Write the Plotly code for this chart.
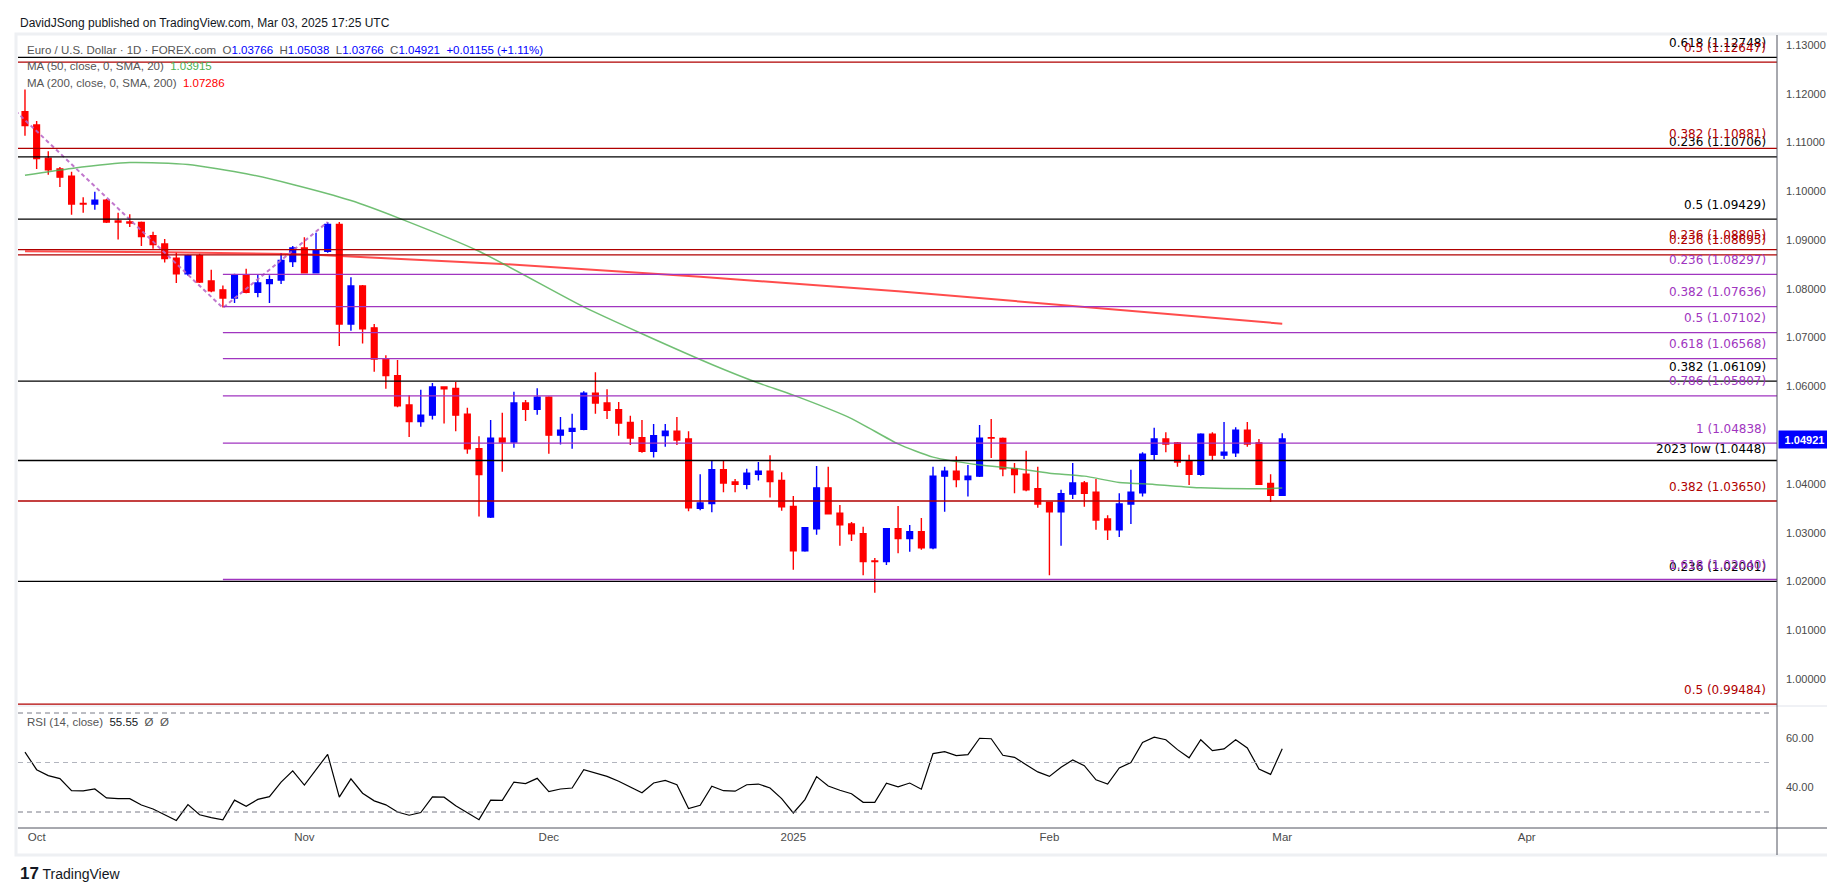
import numpy as np
import pandas as pd
import plotly.graph_objects as go

# ---------------- data ----------------
holidays = ["2024-12-25", "2025-01-01"]
dates = [d.strftime("%Y-%m-%d") for d in pd.bdate_range("2024-09-30", "2025-03-03")
         if d.strftime("%Y-%m-%d") not in holidays]

opens = [1.1163,1.1136,1.1068,1.1046,1.1031,1.0975,1.0974,1.0982,1.0939,1.0937,
         1.0936,1.0909,1.0892,1.0863,1.0831,1.0868,1.0816,1.0798,1.0781,1.0829,
         1.0793,1.0811,1.0818,1.0856,1.0884,1.0833,1.0877,1.0932,1.0728,1.0806,
         1.0720,1.0656,1.0622,1.0562,1.0528,1.0541,1.0599,1.0596,1.0543,1.0472,
         1.0332,1.0494,1.0486,1.0566,1.0553,1.0578,1.0500,1.0508,1.0512,1.0586,
         1.0566,1.0552,1.0526,1.0495,1.0467,1.0499,1.0508,1.0492,1.0350,1.0360,
         1.0429,1.0404,1.0399,1.0420,1.0426,1.0407,1.0354,1.0263,1.0308,1.0392,
         1.0340,1.0318,1.0298,1.0242,1.0241,1.0308,1.0288,1.0302,1.0269,1.0416,
         1.0426,1.0409,1.0416,1.0495,1.0493,1.0431,1.0420,1.0390,1.0362,1.0343,
         1.0379,1.0402,1.0383,1.0328,1.0306,1.0359,1.0382,1.0461,1.0492,1.0484,
         1.0446,1.0420,1.0502,1.0459,1.0464,1.0510,1.0484,1.0401,1.03766]
highs = [1.1209,1.1144,1.1082,1.1050,1.1040,1.0988,1.0999,1.0984,1.0956,1.0953,
         1.0938,1.0917,1.0902,1.0874,1.0870,1.0872,1.0839,1.0807,1.0831,1.0841,
         1.0829,1.0828,1.0873,1.0888,1.0906,1.0915,1.0937,1.0937,1.0824,1.0808,
         1.0728,1.0664,1.0654,1.0582,1.0593,1.0607,1.0600,1.0609,1.0556,1.0498,
         1.0531,1.0546,1.0589,1.0572,1.0596,1.0580,1.0537,1.0544,1.0590,1.0629,
         1.0594,1.0568,1.0540,1.0531,1.0523,1.0523,1.0537,1.0508,1.0420,1.0448,
         1.0448,1.0410,1.0431,1.0445,1.0459,1.0424,1.0375,1.0310,1.0437,1.0435,
         1.0357,1.0322,1.0312,1.0248,1.0308,1.0355,1.0316,1.0330,1.0435,1.0435,
         1.0457,1.0439,1.0521,1.0533,1.0495,1.0443,1.0468,1.0435,1.0362,1.0388,
         1.0443,1.0406,1.0410,1.0336,1.0381,1.0429,1.0465,1.0515,1.0506,1.0486,
         1.0460,1.0504,1.0506,1.0527,1.0516,1.0527,1.0492,1.0420,1.05038]
lows = [1.1114,1.1046,1.1034,1.1009,1.0952,1.0956,1.0962,1.0935,1.0901,1.0927,
        1.0888,1.0882,1.0854,1.0812,1.0827,1.0812,1.0793,1.0762,1.0771,1.0791,
        1.0783,1.0771,1.0810,1.0845,1.0833,1.0832,1.0874,1.0683,1.0714,1.0688,
        1.0630,1.0595,1.0557,1.0496,1.0517,1.0532,1.0524,1.0508,1.0462,1.0333,
        1.0330,1.0425,1.0474,1.0529,1.0542,1.0462,1.0481,1.0472,1.0510,1.0544,
        1.0533,1.0499,1.0480,1.0464,1.0454,1.0476,1.0480,1.0344,1.0346,1.0342,
        1.0383,1.0383,1.0389,1.0407,1.0372,1.0345,1.0224,1.0261,1.0296,1.0339,
        1.0273,1.0283,1.0213,1.0177,1.0234,1.0258,1.0261,1.0265,1.0266,1.0343,
        1.0393,1.0374,1.0414,1.0453,1.0416,1.0381,1.0385,1.0351,1.0213,1.0273,
        1.0369,1.0353,1.0306,1.0285,1.0291,1.0318,1.0374,1.0449,1.0465,1.0435,
        1.0398,1.0417,1.0449,1.0451,1.0455,1.0476,1.0399,1.0363,1.03766]
closes = [1.1135,1.1067,1.1044,1.1029,1.0974,1.0974,1.0982,1.0937,1.0937,1.0935,
          1.0907,1.0891,1.0862,1.0831,1.0868,1.0814,1.0796,1.0781,1.0829,1.0793,
          1.0812,1.0819,1.0858,1.0884,1.0833,1.0878,1.0932,1.0728,1.0806,1.0718,
          1.0656,1.0622,1.0560,1.0528,1.0541,1.0599,1.0595,1.0541,1.0472,1.0419,
          1.0494,1.0486,1.0566,1.0553,1.0578,1.0500,1.0510,1.0514,1.0586,1.0566,
          1.0551,1.0525,1.0494,1.0467,1.0499,1.0508,1.0490,1.0351,1.0361,1.0429,
          1.0402,1.0399,1.0422,1.0426,1.0405,1.0353,1.0263,1.0310,1.0392,1.0339,
          1.0316,1.0298,1.0241,1.0241,1.0308,1.0288,1.0302,1.0269,1.0416,1.0426,
          1.0409,1.0416,1.0494,1.0494,1.0431,1.0419,1.0388,1.0359,1.0343,1.0380,
          1.0402,1.0381,1.0326,1.0306,1.0359,1.0383,1.0461,1.0492,1.0482,1.0445,
          1.0420,1.0502,1.0459,1.0465,1.0510,1.0482,1.0399,1.03766,1.04921]
rsi = [54.2,47.1,44.7,43.5,38.6,38.5,39.3,35.7,35.4,35.4,
       32.8,31.2,28.9,26.6,33.0,28.9,27.7,26.8,34.8,32.3,
       35.1,36.2,42.1,46.6,40.9,47.1,53.3,36.0,43.4,37.6,
       34.5,32.9,30.0,28.7,29.8,36.1,36.0,32.5,29.6,26.9,
       34.8,34.7,42.1,41.5,43.6,38.2,39.3,39.7,47.1,45.6,
       44.4,42.4,40.2,37.8,41.7,42.8,41.0,31.4,32.7,40.4,
       38.6,38.4,41.0,41.3,39.7,35.4,29.6,35.0,44.3,40.5,
       38.8,37.4,33.9,33.9,41.6,40.2,41.7,39.2,53.6,54.4,
       52.8,53.2,59.8,59.6,52.9,52.1,49.1,46.2,44.4,48.1,
       51.0,48.7,43.0,41.3,47.8,50.0,58.1,60.2,59.2,55.2,
       51.9,59.2,54.8,55.5,59.2,55.9,47.4,45.2,55.55]

ma50_dates = ["2024-09-30","2024-10-04","2024-10-11","2024-10-18","2024-10-25","2024-10-31",
              "2024-11-07","2024-11-13","2024-11-22","2024-12-05","2024-12-12","2024-12-20",
              "2024-12-27","2025-01-02","2025-01-09","2025-01-15","2025-01-20","2025-01-24",
              "2025-01-29","2025-02-03","2025-02-06","2025-02-11","2025-02-14","2025-02-20",
              "2025-02-27","2025-03-03"]
ma50_vals = [1.1033,1.1047,1.1059,1.1055,1.1036,1.1014,1.0981,1.0946,1.0877,1.0763,1.0708,1.0645,
             1.0607,1.0582,1.0534,1.0482,1.0455,1.0439,1.0432,1.0422,1.0416,1.0403,1.0399,1.0392,
             1.0390,1.03915]
ma200_dates = ["2024-09-30","2024-10-16","2024-11-01","2024-11-26","2024-12-19","2025-01-15",
               "2025-02-05","2025-03-03"]
ma200_vals = [1.0877,1.0875,1.0871,1.0851,1.0825,1.0795,1.0765,1.07286]

swing_dates = ["2024-09-25", "2024-10-23", "2024-11-05"]
swing_vals = [1.1214, 1.0761, 1.0937]

black_levels = [1.12748, 1.10706, 1.09429, 1.06109, 1.02001]
black_ratios = ["0.618", "0.236", "0.5", "0.382", "0.236"]
red_levels = [1.12647, 1.10881, 1.08805, 1.08695, 1.03650, 0.99484]
red_ratios = ["0.5", "0.382", "0.236", "0.236", "0.382", "0.5"]
purple_levels = [1.08297, 1.07636, 1.07102, 1.06568, 1.05807, 1.04838, 1.02040]
purple_ratios = ["0.236", "0.382", "0.5", "0.618", "0.786", "1", "1.618"]
purple_start = "2024-10-23"
low_2023 = 1.0448

month_tick_dates = ["2024-10-01", "2024-11-01", "2024-12-02", "2025-01-02", "2025-02-03",
                    "2025-03-03", "2025-04-01"]
month_tick_labels = ["Oct", "Nov", "Dec", "2025", "Feb", "Mar", "Apr"]
price_ticks = [1.00, 1.01, 1.02, 1.03, 1.04, 1.06, 1.07, 1.08, 1.09, 1.10, 1.11, 1.12, 1.13]
rsi_ticks = [40, 60]

# ---------------- helpers ----------------
def pos(d):
    return int(np.busday_count(dates[0], d, holidays=holidays))

idx = [pos(d) for d in dates]

W, H = 1835, 883
L, R_AX, T, B = 10, 1769, 27, 820       # plot area in pixels
SEP = 698                                # main / RSI boundary
XMIN, XMAX = -0.6, 150.5
PX_PER_PRICE = 4877.0                    # vertical scale of main pane
def px(x):
    return (x - L) / (R_AX - L)
def py(y):
    return (B - y) / (B - T)

main_dom = [py(SEP), 1]
rsi_dom = [0, py(SEP)]
y_top = 1.13 + (37 - T) / PX_PER_PRICE
y_bot = 1.13 - (SEP - 37) / PX_PER_PRICE

BLUE = "#0000ff"
RED = "#ff0000"
FIBRED = "#b00000"
PURPLE = "#a035c0"
GRAY = "#50535e"
LAB = "Liberation Sans, Arial, sans-serif"
FIBFONT = "DejaVu Sans, Verdana, sans-serif"

fig = go.Figure()

# candles
fig.add_trace(go.Candlestick(
    x=idx, open=opens, high=highs, low=lows, close=closes,
    increasing=dict(line=dict(color=BLUE, width=1.4), fillcolor=BLUE),
    decreasing=dict(line=dict(color=RED, width=1.4), fillcolor=RED),
    whiskerwidth=0, xaxis="x", yaxis="y", hoverinfo="skip", showlegend=False))

# moving averages
fig.add_trace(go.Scatter(x=[pos(d) for d in ma200_dates], y=ma200_vals, mode="lines",
                         line=dict(color="rgba(255,0,0,0.7)", width=2), xaxis="x", yaxis="y",
                         hoverinfo="skip", showlegend=False))
fig.add_trace(go.Scatter(x=[pos(d) for d in ma50_dates], y=ma50_vals, mode="lines",
                         line=dict(color="rgba(76,175,80,0.8)", width=1.5, shape="spline", smoothing=0.6),
                         xaxis="x", yaxis="y", hoverinfo="skip", showlegend=False))

# fib swing (dashed)
fig.add_trace(go.Scatter(x=[pos(d) for d in swing_dates], y=swing_vals, mode="lines",
                         line=dict(color="rgba(186,104,200,0.9)", width=2, dash="4px,3px"),
                         xaxis="x", yaxis="y", hoverinfo="skip", showlegend=False))

annotations = []
XLAB = px(1760)

def add_level(level, color, text, start, shift=14.5):
    fig.add_trace(go.Scatter(x=[start, XMAX], y=[level, level], mode="lines",
                             line=dict(color=color, width=1.3), xaxis="x", yaxis="y",
                             hoverinfo="skip", showlegend=False))
    annotations.append(dict(xref="paper", yref="y", x=XLAB, y=level, xanchor="right",
                            yanchor="middle", yshift=shift, text=text, showarrow=False,
                            font=dict(family=FIBFONT, size=12, color=color)))

for lv, r in zip(black_levels, black_ratios):
    add_level(lv, "#000000", f"{r} ({lv:.5f})", XMIN)
add_level(low_2023, "#000000", f"2023 low ({low_2023:.4f})", XMIN, shift=12)
for lv, r in zip(red_levels, red_ratios):
    add_level(lv, FIBRED, f"{r} ({lv:.5f})", XMIN)
for lv, r in zip(purple_levels, purple_ratios):
    add_level(lv, PURPLE, f"{r} ({lv:.5f})", pos(purple_start))

# RSI
fig.add_trace(go.Scatter(x=idx, y=rsi, mode="lines", line=dict(color="#000000", width=1.2),
                         xaxis="x", yaxis="y2", hoverinfo="skip", showlegend=False))

shapes = []
for lvl, col in [(70, "#787b86"), (50, "#b2b5be"), (30, "#787b86")]:
    shapes.append(dict(type="line", xref="paper", yref="y2", x0=0, x1=0.997, y0=lvl, y1=lvl,
                       line=dict(color=col, width=1, dash="5px,4px")))
# frame lines
shapes.append(dict(type="line", xref="paper", yref="paper", x0=0, x1=px(1825), y0=py(SEP), y1=py(SEP),
                   line=dict(color="#e0e3eb", width=1)))
shapes.append(dict(type="line", xref="paper", yref="paper", x0=1, x1=1, y0=py(847), y1=py(T),
                   line=dict(color=GRAY, width=1)))
shapes.append(dict(type="line", xref="paper", yref="paper", x0=0, x1=px(1825), y0=0, y1=0,
                   line=dict(color=GRAY, width=1)))
shapes.append(dict(type="rect", xref="paper", yref="paper", x0=px(8), x1=px(1827), y0=py(847), y1=py(26),
                   line=dict(color="#eef0f3", width=3), fillcolor="rgba(0,0,0,0)", layer="below"))

# last price box
annotations.append(dict(xref="paper", yref="y", x=1, y=closes[-1], xanchor="left", yanchor="middle",
                        xshift=1, text=f"<b>{closes[-1]:.5f}</b>", showarrow=False, bgcolor=BLUE,
                        width=51, height=17, borderpad=0,
                        font=dict(family=LAB, size=11, color="#ffffff")))

# header texts
nb = "\u00a0"
chg = closes[-1] - closes[-2]
pct = chg / closes[-2] * 100
def v(val):
    return f"<span style='color:{BLUE}'>{val}</span>"
header = (f"Euro / U.S. Dollar · 1D · FOREX.com{nb}{nb}"
          f"O{v(f'{opens[-1]:.5f}')}{nb}{nb}H{v(f'{highs[-1]:.5f}')}{nb}{nb}"
          f"L{v(f'{lows[-1]:.5f}')}{nb}{nb}C{v(f'{closes[-1]:.5f}')}{nb}{nb}"
          f"{v(f'{chg:+.5f} ({pct:+.2f}%)')}")
annotations += [
    dict(xref="paper", yref="paper", x=px(10), y=py(15), xanchor="left", yanchor="middle",
         text="DavidJSong published on TradingView.com, Mar 03, 2025 17:25 UTC", showarrow=False,
         font=dict(family=LAB, size=12, color="#131722")),
    dict(xref="paper", yref="paper", x=px(17), y=py(42), xanchor="left", yanchor="middle",
         text=header, showarrow=False, font=dict(family=LAB, size=11.5, color="#555555")),
    dict(xref="paper", yref="paper", x=px(17), y=py(58), xanchor="left", yanchor="middle",
         text=f"MA (50, close, 0, SMA, 20){nb}{nb}<span style='color:#4caf50'>{ma50_vals[-1]:.5f}</span>",
         showarrow=False, font=dict(family=LAB, size=11.5, color="#555555")),
    dict(xref="paper", yref="paper", x=px(17), y=py(75), xanchor="left", yanchor="middle",
         text=f"MA (200, close, 0, SMA, 200){nb}{nb}<span style='color:#ff0000'>{ma200_vals[-1]:.5f}</span>",
         showarrow=False, font=dict(family=LAB, size=11.5, color="#555555")),
    dict(xref="paper", yref="paper", x=px(17), y=py(714), xanchor="left", yanchor="middle",
         text=f"RSI (14, close){nb}{nb}<span style='color:#131722'>{rsi[-1]:.2f}</span>{nb}{nb}Ø{nb}{nb}Ø",
         showarrow=False, font=dict(family=LAB, size=11.5, color="#555555")),
    dict(xref="paper", yref="paper", x=px(10), y=py(865), xanchor="left", yanchor="middle",
         text="<b><span style='font-size:17px'>17</span></b> TradingView", showarrow=False,
         font=dict(family=LAB, size=14, color="#131722")),
]

fig.update_layout(
    width=W, height=H, paper_bgcolor="#ffffff", plot_bgcolor="#ffffff",
    margin=dict(l=L, r=W - R_AX, t=T, b=H - B, pad=0),
    boxgap=0.3,
    showlegend=False,
    xaxis=dict(domain=[0, 1], range=[XMIN, XMAX], anchor="y2", showgrid=False, zeroline=False,
               showline=False, ticks="", tickvals=[pos(d) for d in month_tick_dates],
               ticktext=month_tick_labels, tickfont=dict(family=LAB, size=11.5, color="#4a4a4a"),
               rangeslider=dict(visible=False), fixedrange=True),
    yaxis=dict(domain=main_dom, range=[y_bot, y_top],
               side="right", anchor="x", showgrid=False, zeroline=False, showline=False, ticks="",
               tickvals=price_ticks, ticktext=[f"{t:.5f}" for t in price_ticks],
               tickfont=dict(family=LAB, size=11, color="#4a4a4a"), ticklabelstandoff=8),
    yaxis2=dict(domain=rsi_dom, range=[30 - (B - 804) / 2.475, 70 + (705 - SEP) / 2.475],
                side="right", anchor="x", showgrid=False, zeroline=False, showline=False, ticks="",
                tickvals=rsi_ticks, ticktext=[f"{t:.2f}" for t in rsi_ticks],
                tickfont=dict(family=LAB, size=11, color="#4a4a4a"), ticklabelstandoff=8),
    shapes=shapes, annotations=annotations,
)

fig.write_html("out.html", config={"displayModeBar": False})
